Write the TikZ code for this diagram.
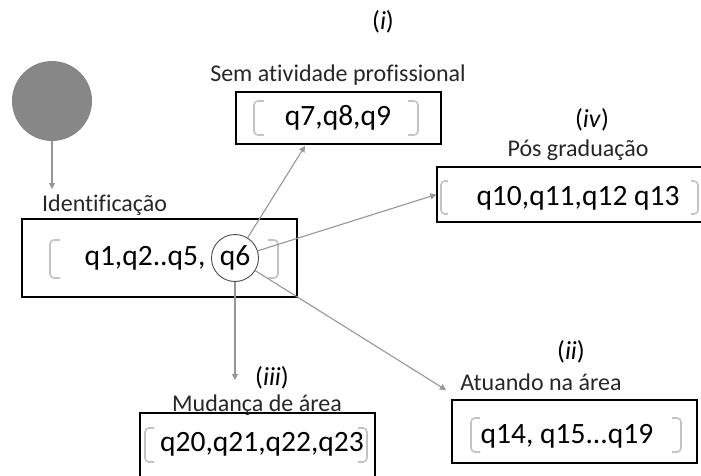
\documentclass[tikz,border=0pt]{standalone}
\usepackage{fontspec}
\setmainfont{Carlito}[Ligatures=NoCommon]
\usetikzlibrary{arrows.meta,calc}
\definecolor{arrgray}{RGB}{150,150,150}
\definecolor{brgray}{RGB}{195,195,195}
\definecolor{fillgray}{RGB}{135,135,135}
\tikzset{
  box/.style={draw=black,line width=1.3pt,minimum width=#1,inner sep=0pt},
  lbl/.style={font=\fontsize{24}{26}\selectfont,inner sep=0pt,text=black!85},
  qtxt/.style={font=\fontsize{29.5}{31}\selectfont,inner sep=0pt},
  tag/.style={font=\fontsize{26}{28}\selectfont,inner sep=0pt},
  conn/.style={draw=arrgray,line width=1.1pt,-{Triangle[width=6pt,length=6pt]}},
  brk/.style={draw=brgray,line width=1.6pt,rounded corners=4pt},
}
\begin{document}
\begin{tikzpicture}[x=1pt,y=-1pt]
\useasboundingbox (0,0) rectangle (701,476);
% start circle
\node[circle,fill=fillgray,minimum size=80pt,inner sep=0pt] (start) at (52,101) {};
% boxes
\node[box=275pt,minimum height=78pt] (main) at (159.5,258) {};
\node[box=205pt,minimum height=52pt] (sem) at (338.5,118) {};
\node[box=268pt,minimum height=55pt] (pos) at (571,194.5) {};
\node[box=245pt,minimum height=63pt] (atu) at (574.5,431.5) {};
\node[box=235pt,minimum height=66pt] (mud) at (257.5,446) {};
% brackets
\draw[brk] (60,240) -- (50,240) -- (50,278) -- (60,278);
\draw[brk] (268,240) -- (278,240) -- (278,278) -- (268,278);
\draw[brk] (264,101) -- (254,101) -- (254,135) -- (264,135);
\draw[brk] (408,101) -- (418,101) -- (418,135) -- (408,135);
\draw[brk] (448,181) -- (441,181) -- (441,214) -- (448,214);
\draw[brk] (691,181) -- (698,181) -- (698,214) -- (691,214);
\draw[brk] (480,418) -- (471,418) -- (471,452) -- (480,452);
\draw[brk] (672,418) -- (681,418) -- (681,452) -- (672,452);
\draw[brk] (154,428) -- (145,428) -- (145,462) -- (154,462);
\draw[brk] (358,428) -- (367,428) -- (367,462) -- (358,462);
% texts in boxes
\node[qtxt] (t1) at (145,258) {q1,q2..q5,};
\node[circle,draw=black!70,line width=0.9pt,minimum size=47pt,inner sep=0pt,qtxt] (q6) at (235,258) {q6};
\node[qtxt] (t2) at (338,118) {q7,q8,q9};
\node[qtxt] (t3) at (578,198) {q10,q11,q12 q13};
\node[qtxt] (t4) at (567,436) {q14, q15...q19};
\node[qtxt] (t5) at (262,444) {q20,q21,q22,q23};
% labels
\node[lbl,anchor=west] (lid) at (42,205) {Identificação};
\node[lbl] (lsem) at (338,75) {Sem atividade profissional};
\node[lbl] (lpos) at (578,150) {Pós graduação};
\node[lbl] (latu) at (541,382) {Atuando na área};
\node[lbl] (lmud) at (257,405) {Mudança de área};
% tags
\node[tag] (ti) at (383,22) {(\textit{i})};
\node[tag] (tiv) at (592,120) {(\textit{iv})};
\node[tag] (tii) at (571,352) {(\textit{ii})};
\node[tag] (tiii) at (272,378) {(\textit{iii})};
% connector ends
\coordinate (eid) at (52,189);
\coordinate (esem) at (305,146);
\coordinate (eatu) at (446,390);
\coordinate (emud) at (235,380);
% connectors
\draw[conn] (start) -- (eid);
\draw[conn] (q6) -- (esem);
\draw[conn] (q6) -- (pos.west);
\draw[conn] (q6) -- (eatu);
\draw[conn] (q6) -- (emud);
\end{tikzpicture}
\end{document}
